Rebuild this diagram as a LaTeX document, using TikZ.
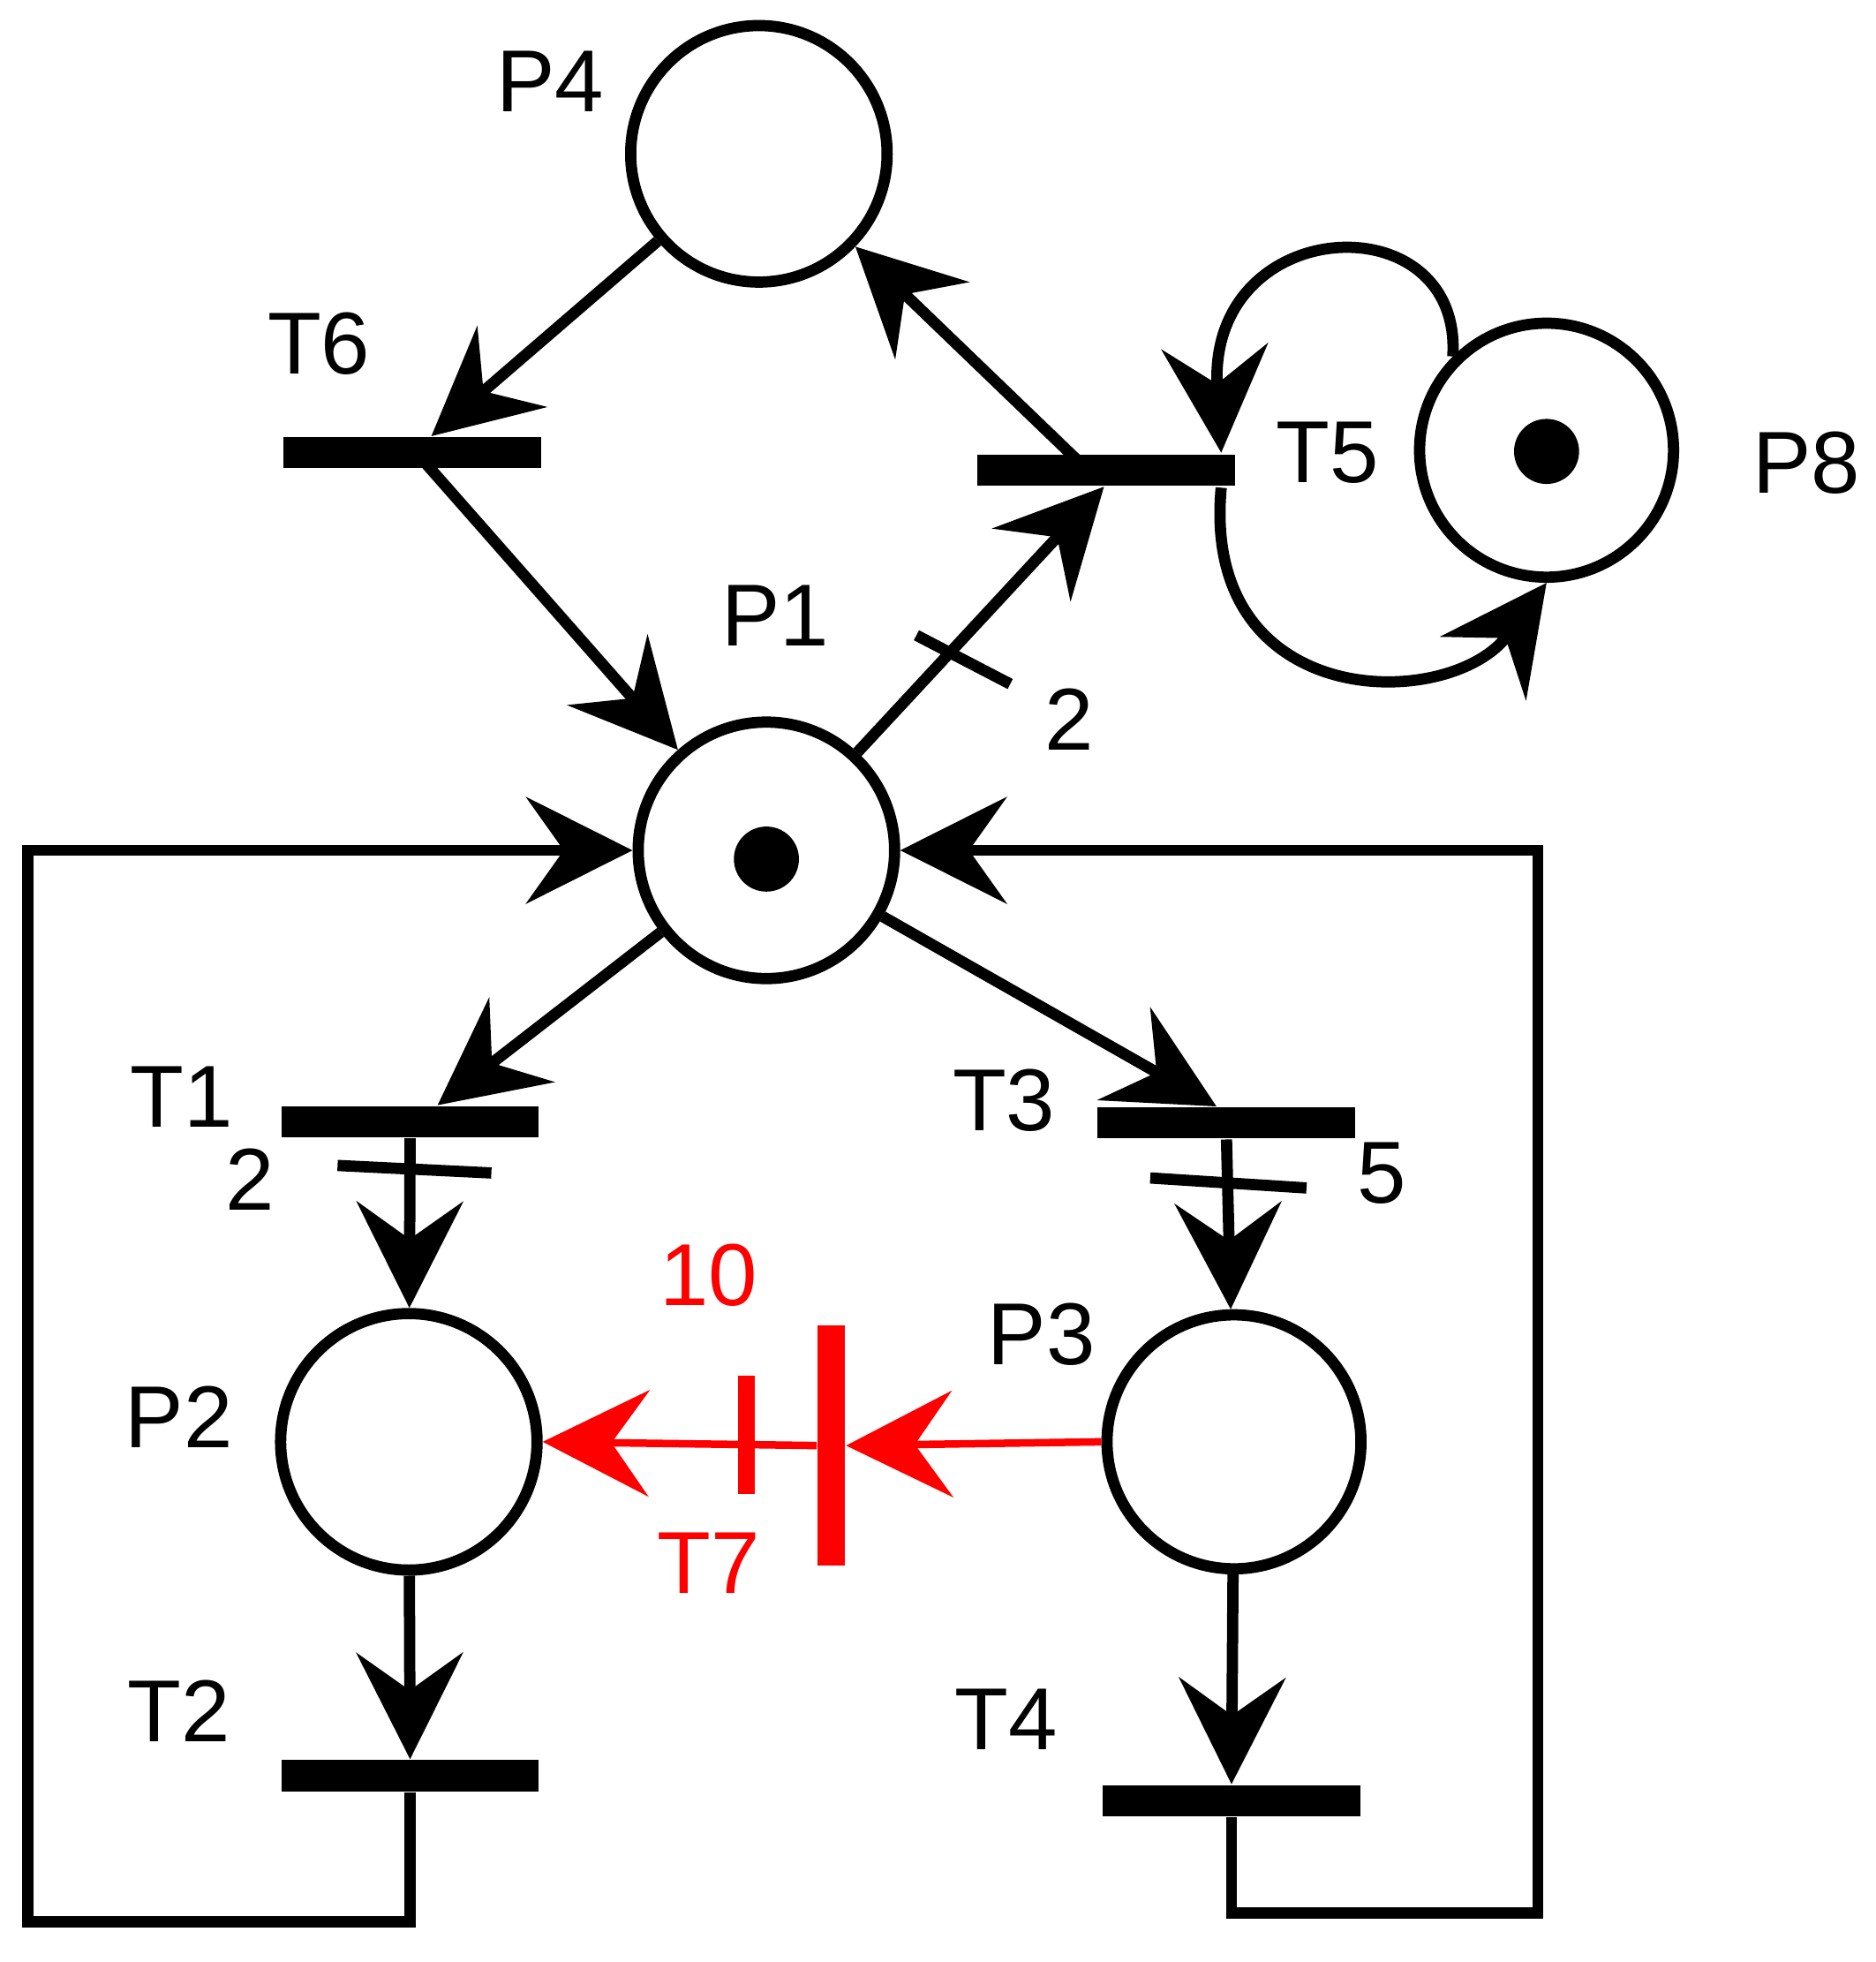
\documentclass[tikz,border=0pt]{standalone}
\usepackage{fontspec}
\setmainfont{Liberation Sans}
\usetikzlibrary{arrows.meta,calc}
\begin{document}
\begin{tikzpicture}[x=0.01cm,y=-0.01cm,
  lw/.style={line width=0.09cm},
  place/.style={circle,draw,line width=0.09cm,minimum size=2.05cm,inner sep=0pt},
  bar/.style={rectangle,fill=black,minimum width=2.06cm,minimum height=0.25cm,inner sep=0pt},
  vbar/.style={rectangle,fill=red,minimum width=0.22cm,minimum height=1.92cm,inner sep=0pt},
  arc/.style={line width=0.09cm,-{Stealth[length=0.85cm,width=0.85cm,inset=0.3cm]}},
  lbl/.style={font=\fontsize{20}{24}\selectfont},
  tok/.style={circle,fill=black,minimum width=0.52cm,minimum height=0.44cm,inner sep=0pt}]
\useasboundingbox (0,0) rectangle (1500,1569);
\node[place] (p4) at (607,123) {};
\node[place] (p1) at (613,680) {};
\node[tok] (k1) at (613,687) {};
\node[place,minimum size=2.03cm] (p8) at (1237,360) {};
\node[tok] (k8) at (1237,361) {};
\node[place] (p2) at (327,1153) {};
\node[place,minimum size=2.03cm] (p3) at (987,1153) {};
\node[bar] (t6) at (330,362) {};
\node[bar] (t5) at (885,376) {};
\node[bar] (t1) at (328,897) {};
\node[bar] (t3) at (981,898) {};
\node[bar] (t2) at (328,1420) {};
\node[bar] (t4) at (985,1440) {};
\node[vbar] (t7) at (665,1156) {};
\node[lbl] at (440,65) {P4};
\node[lbl] at (620,492) {P1};
\node[lbl] at (1445,370) {P8};
\node[lbl] at (143,1133) {P2};
\node[lbl] at (833,1067) {P3};
\node[lbl] at (255,275) {T6};
\node[lbl] at (1062,362) {T5};
\node[lbl] at (145,877) {T1};
\node[lbl] at (200,943) {2};
\node[lbl] at (803,880) {T3};
\node[lbl] at (1105,938) {5};
\node[lbl] at (143,1368) {T2};
\node[lbl] at (805,1375) {T4};
\node[lbl] at (855,575) {2};
\node[lbl,text=red] at (567,1250) {T7};
\node[lbl,text=red] at (567,1020) {10};
% arcs
\draw[arc] (p4) -- ($(t6.north)+(15,0)$);
\draw[arc] ($(t6.center)+(3,0)$) -- (p1);
\draw[arc] (p1) -- ($(t5.south)+(-2,0)$);
\draw[lw] (733,508) -- (808,547);
\draw[arc] ($(t5.center)+(-15,0)$) -- (p4);
\draw[arc] (p8.north west) .. controls (1170,160) and (965,170) .. ($(t5.east)+(-12,-14)$);
\draw[arc] ($(t5.east)+(-12,14)$) .. controls (960,570) and (1160,570) .. (p8.south);
\draw[arc] (p1) -- ($(t1.north)+(22,0)$);
\draw[arc] (p1) -- ($(t3.north)+(-8,0)$);
\draw[arc] (t1.south) -- (p2);
\draw[lw] (270,932) -- (393,938);
\draw[arc] (t3.south) -- (p3);
\draw[lw] (920,942) -- (1045,950);
\draw[arc] (p2) -- (t2.north);
\draw[arc] (p3) -- (t4.north);
\draw[arc] (t2.south) -- (328,1537) -- (22,1537) -- (22,680) -- (p1.west);
\draw[arc] (t4.south) -- (985,1530) -- (1230,1530) -- (1230,680) -- (p1.east);
\draw[arc,red,line width=0.06cm] (p3.west) -- (t7.east);
\draw[arc,red,line width=0.06cm] (t7.west) -- (p2.east);
\draw[red,line width=0.14cm] (597,1100) -- (597,1195);
\end{tikzpicture}
\end{document}
